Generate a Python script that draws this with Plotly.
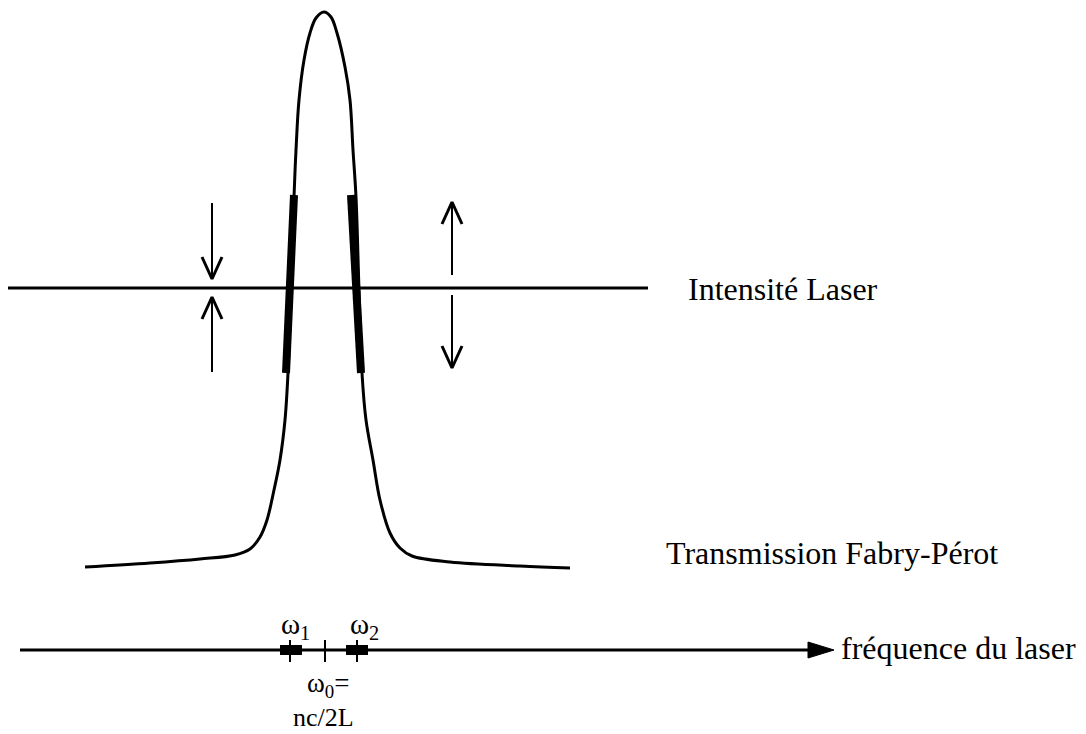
import plotly.graph_objects as go

# schematic coordinates (x to the right, y downward, pixels)
curve_x = [85, 150, 200, 235, 250, 260, 267, 274, 280, 285, 288, 291, 294, 296, 299, 304, 310, 316, 324,
           331, 337, 345, 350, 353, 356, 359, 362, 366, 373, 380, 390, 400, 412, 450, 520, 570]
curve_y = [567, 563, 559, 555, 549, 537, 520, 490, 460, 420, 373, 290, 197, 150, 100, 60, 33, 18, 12,
           17, 33, 67, 100, 150, 197, 290, 373, 420, 460, 500, 533, 548, 556, 562, 566, 568]

laser_x = [8, 648]
laser_y = 288

# thick segments where the laser sits on the flanks (omega1, omega2)
flank_x = [[294, 286], [351, 361]]
flank_y = [195, 373]

# intensity arrows: (x, tail y, tip y)
arrows = [(212, 203, 279), (212, 372, 297), (452, 275, 202), (452, 295, 368)]

axis_x = [20, 808]
axis_tip = 834
axis_y = 650
freq_blocks = [291, 357]
freq_ticks = [290, 325, 357]

labels = ["Intensité Laser", "Transmission Fabry-Pérot", "fréquence du laser"]
label_pos = [(686, 289), (664, 553), (839, 648)]

fig = go.Figure()

line = dict(color="black", width=3)
fig.add_trace(go.Scatter(x=curve_x, y=curve_y, mode="lines", line=dict(color="black", width=3, shape="spline")))
fig.add_trace(go.Scatter(x=laser_x, y=[laser_y, laser_y], mode="lines", line=line))
for fx in flank_x:
    fig.add_trace(go.Scatter(x=fx, y=flank_y, mode="lines", line=dict(color="black", width=8)))

for ax_, y0, y1 in arrows:
    d = 1 if y1 > y0 else -1
    fig.add_trace(go.Scatter(x=[ax_, ax_], y=[y0, y1], mode="lines", line=dict(color="black", width=2)))
    fig.add_trace(go.Scatter(x=[ax_ - 10, ax_, ax_ + 10], y=[y1 - d * 22, y1, y1 - d * 22], mode="lines",
                             line=dict(color="black", width=3)))

# frequency axis
fig.add_trace(go.Scatter(x=axis_x, y=[axis_y, axis_y], mode="lines", line=line))
fig.add_trace(go.Scatter(x=[axis_x[1], axis_tip, axis_x[1], axis_x[1]],
                         y=[axis_y - 8, axis_y, axis_y + 8, axis_y - 8],
                         mode="lines", fill="toself", fillcolor="black", line=dict(color="black", width=1)))
for bx in freq_blocks:
    fig.add_trace(go.Scatter(x=[bx - 11, bx + 11], y=[axis_y, axis_y], mode="lines",
                             line=dict(color="black", width=10)))
for tx in freq_ticks:
    fig.add_trace(go.Scatter(x=[tx, tx], y=[axis_y - 10, axis_y + 12], mode="lines",
                             line=dict(color="black", width=2)))

serif = "Liberation Serif"
for t, (lx, ly) in zip(labels, label_pos):
    fig.add_annotation(x=lx, y=ly, text=t, showarrow=False, xanchor="left", yanchor="middle",
                       font=dict(family=serif, size=32, color="black"))

fig.add_annotation(x=295, y=626, text="ω<sub>1</sub>", showarrow=False, font=dict(family=serif, size=29, color="black"))
fig.add_annotation(x=364, y=626, text="ω<sub>2</sub>", showarrow=False, font=dict(family=serif, size=29, color="black"))
fig.add_annotation(x=328, y=685, text="ω<sub>0</sub>=", showarrow=False, font=dict(family=serif, size=27, color="black"))
fig.add_annotation(x=323, y=717, text="nc/2L", showarrow=False, font=dict(family=serif, size=26, color="black"))

# the page puts the plot 8 px in from the top-left corner, so ranges start at 8
fig.update_layout(
    width=1078, height=726,
    margin=dict(l=0, r=0, t=0, b=0),
    plot_bgcolor="white", paper_bgcolor="white",
    showlegend=False,
    xaxis=dict(range=[8, 1086], visible=False, fixedrange=True),
    yaxis=dict(range=[734, 8], visible=False, fixedrange=True),
)

fig.write_html("out.html")
